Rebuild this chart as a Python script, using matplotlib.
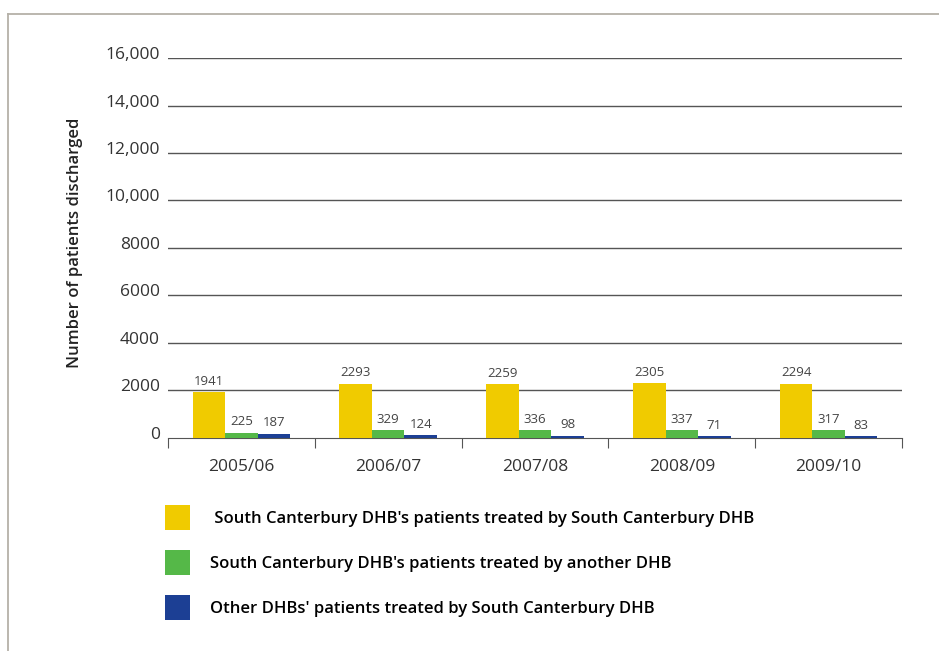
import numpy as np
import matplotlib
matplotlib.use("Agg")
from matplotlib import pyplot as plt
from matplotlib.patches import Patch
from matplotlib.lines import Line2D
from matplotlib.transforms import ScaledTranslation

plt.rcParams['font.family'] = ['Open Sans', 'DejaVu Sans']

years = ["2005/06", "2006/07", "2007/08", "2008/09", "2009/10"]
sc_by_sc = [1941, 2293, 2259, 2305, 2294]
sc_by_other = [225, 329, 336, 337, 317]
other_by_sc = [187, 124, 98, 71, 83]
series_labels = [
    " South Canterbury DHB's patients treated by South Canterbury DHB",
    "South Canterbury DHB's patients treated by another DHB",
    "Other DHBs' patients treated by South Canterbury DHB",
]
colors = ["#F0CB00", "#55B848", "#1C3F94"]
yticks = [0, 2000, 4000, 6000, 8000, 10000, 12000, 14000, 16000]
ytick_labels = ["0", "2000", "4000", "6000", "8000", "10,000", "12,000", "14,000", "16,000"]

fig = plt.figure(figsize=(9.39, 6.51), dpi=100)
ax = fig.add_axes([0.1789, 0.3272, 0.7817, 0.5837])

x = np.arange(len(years))
w = 0.222
for i, vals in enumerate([sc_by_sc, sc_by_other, other_by_sc]):
    b = ax.bar(x + (i - 1) * w, vals, w, color=colors[i], zorder=3)
    ax.bar_label(b, padding=3, fontsize=9.5, color="#444444")

ax.set_xlim(-0.5, len(years) - 0.5)
ax.set_ylim(0, 16000)
ax.set_yticks(yticks)
ax.set_yticklabels(ytick_labels, fontsize=12.5, color="#333333")
ax.tick_params(axis="y", length=0, pad=6)
# labels sit a little above their gridlines
shift = ScaledTranslation(0, 5 / 100, fig.dpi_scale_trans)
for lab in ax.get_yticklabels():
    lab.set_transform(lab.get_transform() + shift)
for t in yticks[1:]:
    ax.axhline(t, color="#555555", lw=1, zorder=1)

ax.set_xticks(np.arange(-0.5, len(years), 1))
ax.set_xticklabels([])
ax.set_xticks(x, minor=True)
ax.set_xticklabels(years, minor=True, fontsize=12.5, color="#333333")
ax.tick_params(axis="x", which="major", length=7, color="#555555", direction="out")
ax.tick_params(axis="x", which="minor", length=0, pad=15)

for s in ["top", "right", "left"]:
    ax.spines[s].set_visible(False)
ax.spines["bottom"].set_color("#555555")

ax.set_ylabel("Number of patients discharged", fontsize=12, fontweight="semibold",
              color="#222222")
ax.yaxis.set_label_coords(-0.116, 0.513)

handles = [Patch(facecolor=c) for c in colors]
fig.legend(handles, series_labels, loc="upper left", bbox_to_anchor=(0.169, 0.235),
           frameon=False, handlelength=1.45, handleheight=2.0,
           handletextpad=1.2, labelspacing=1.15, borderaxespad=0,
           prop={"weight": "semibold", "size": 12})

# page frame (top and left edges)
fig.add_artist(Line2D([8 / 939, 1], [1 - 14 / 651, 1 - 14 / 651], color="#B5B1A8", lw=1.3))
fig.add_artist(Line2D([8 / 939, 8 / 939], [0, 1 - 14 / 651], color="#B5B1A8", lw=1.3))

fig.savefig("out.png", dpi=100)
